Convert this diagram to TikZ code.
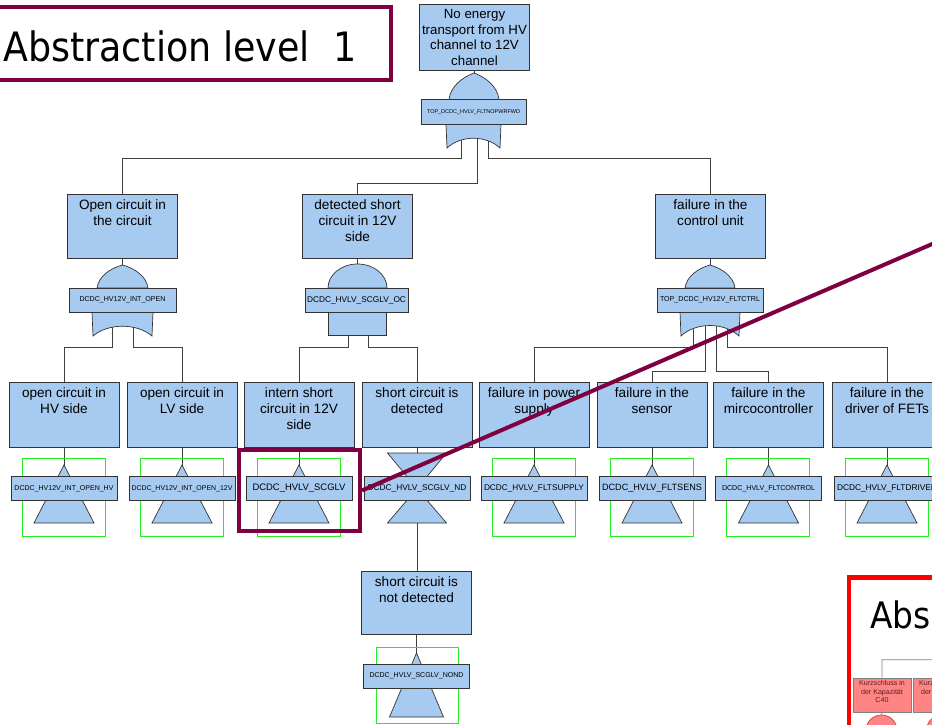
\documentclass[tikz,border=0pt]{standalone}
\usepackage{graphicx}
\usepackage{fontspec}
\setmainfont{Liberation Sans}
\newfontfamily\titlefont{DejaVu Sans}
\usetikzlibrary{backgrounds}
\definecolor{fbblue}{HTML}{A6CAF0}
\definecolor{bdr}{HTML}{333333}
\definecolor{conn}{HTML}{404040}
\definecolor{mag}{HTML}{7F0040}
\definecolor{grn}{HTML}{22EE22}
\definecolor{pinkf}{HTML}{FF8484}
\definecolor{pinktx}{HTML}{5A2020}
\newcommand{\fitlbl}[2]{\resizebox{#1}{!}{\fontsize{10}{12}\selectfont #2}}
\newcommand{\bevt}[5]{%
  \draw[grnbox] (#2-42,#3-30.5) rectangle (#2+41,#3+47.5);
  \path[gshape] (#2,#3-23.5) -- (#2+30,#3+34.5) -- (#2-30,#3+34.5) -- cycle;
  \node[gl=106pt] (#1) at (#2,#3) {\fitlbl{#4}{#5}};
}
\tikzset{
  evt/.style={draw=bdr, fill=fbblue, line width=.8pt, minimum width=110pt, minimum height=#1, inner sep=0pt},
  tx/.style={anchor=north, yshift=-6pt, align=center, font=\fontsize{13.6}{16}\selectfont, inner sep=0pt, text=black},
  gl/.style={draw=bdr, fill=fbblue, line width=.8pt, minimum width=#1, minimum height=24pt, inner sep=0pt},
  gshape/.style={draw=bdr, fill=fbblue, line width=.7pt},
  grnbox/.style={draw=grn, line width=.8pt},
  wire/.style={draw=conn, line width=.8pt},
  pk/.style={draw=gray, fill=pinkf, line width=.6pt, minimum width=58pt, minimum height=34pt, inner sep=0pt},
  pktx/.style={anchor=north, yshift=-2.5pt, align=center, font=\fontsize{7.1}{8.5}\selectfont, inner sep=0pt, text=pinktx},
}
\begin{document}
\begin{tikzpicture}[x=1pt, y=-1pt, line join=miter]
\clip (0,0) rectangle (932,724);

% ---------- title ----------
\node[draw=mag, line width=4pt, minimum width=397pt, minimum height=73pt, inner sep=0pt, outer sep=0pt] (tbox) at (192.5,43.5) {};
\node[anchor=base west, inner sep=0pt, font=\titlefont\fontsize{40.5}{48}\selectfont] (ttl) at (3,61) {\scalebox{0.9}[1]{Abstraction level~~1}};

% ---------- event boxes ----------
\node[evt=66pt, label={[tx, font=\fontsize{13.3}{15.5}\selectfont]north:{No energy\\transport from HV\\channel to 12V\\channel}}] (top) at (474.5,37) {};

\node[evt=64pt, label={[tx]north:{Open circuit in\\the circuit}}] (oc) at (122.5,226) {};
\node[evt=64pt, label={[tx]north:{detected short\\circuit in 12V\\side}}] (dsc) at (357.5,226) {};
\node[evt=64pt, label={[tx]north:{failure in the\\control unit}}] (fcu) at (710.5,226) {};

\node[evt=65pt, label={[tx]north:{open circuit in\\HV side}}] (hv) at (64,414.5) {};
\node[evt=65pt, label={[tx]north:{open circuit in\\LV side}}] (lv) at (182,414.5) {};
\node[evt=65pt, label={[tx]north:{intern short\\circuit in 12V\\side}}] (isc) at (299,414.5) {};
\node[evt=65pt, label={[tx]north:{short circuit is\\detected}}] (scd) at (417,414.5) {};
\node[evt=65pt, label={[tx]north:{failure in power\\supply}}] (fps) at (534,414.5) {};
\node[evt=65pt, label={[tx]north:{failure in the\\sensor}}] (fse) at (652,414.5) {};
\node[evt=65pt, label={[tx]north:{failure in the\\mircocontroller}}] (fmc) at (768.5,414.5) {};
\node[evt=65pt, label={[tx]north:{failure in the\\driver of FETs}}] (fdr) at (887,414.5) {};

\node[evt=63pt, label={[tx]north:{short circuit is\\not detected}}] (snd) at (416.5,602.5) {};

% ---------- gates ----------
% top OR gate
\path[gshape] (449,99.5) .. controls (450.5,86) and (463,77) .. (474,73) .. controls (485,77) and (497.5,86) .. (499,99.5) -- cycle;
\path[gshape] (446,124.5) -- (447,148) .. controls (461,135) and (486,135) .. (500,148) -- (501,124.5) -- cycle;
\node[gl=105pt, minimum height=25pt] (g0) at (473.5,112) {\fitlbl{93pt}{TOP\_DCDC\_HVLV\_FLTNOPWRFWD}};

% left OR gate
\path[gshape] (97,288) .. controls (98.5,276) and (111,268) .. (122.5,265) .. controls (134,268) and (146.5,276) .. (148,288) -- cycle;
\path[gshape] (92,312) -- (93,336) .. controls (108,323) and (137,323) .. (152,336) -- (153,312) -- cycle;
\node[gl=107pt] (g1) at (122.5,300) {\fitlbl{86pt}{DCDC\_HV12V\_INT\_OPEN}};

% middle AND gate
\path[gshape] (328,288) arc[start angle=180, end angle=360, x radius=29.5, y radius=24] -- cycle;
\path[gshape] (328.5,312) rectangle (386.5,335);
\node[gl=103pt] (g2) at (356.5,300) {\fitlbl{99pt}{DCDC\_HVLV\_SCGLV\_OC}};

% right OR gate
\path[gshape] (685,288) .. controls (686.5,276) and (699,268) .. (710,265) .. controls (721,268) and (733.5,276) .. (735,288) -- cycle;
\path[gshape] (680,312) -- (681,336) .. controls (696,322) and (724,322) .. (739,336) -- (740,312) -- cycle;
\node[gl=106pt] (g3) at (710,300) {\fitlbl{100pt}{TOP\_DCDC\_HV12V\_FLTCTRL}};

% ---------- basic / transfer events ----------
\bevt{e1}{64}{488.5}{99pt}{DCDC\_HV12V\_INT\_OPEN\_HV}
\bevt{e2}{182}{488.5}{101pt}{DCDC\_HV12V\_INT\_OPEN\_12V}
\bevt{e3}{299}{488.5}{93pt}{DCDC\_HVLV\_SCGLV}
\bevt{e5}{534}{488.5}{100pt}{DCDC\_HVLV\_FLTSUPPLY}
\bevt{e6}{652}{488.5}{100pt}{DCDC\_HVLV\_FLTSENS}
\bevt{e7}{768.5}{488.5}{93pt}{DCDC\_HVLV\_FLTCONTROL}
\bevt{e8}{887}{488.5}{100pt}{DCDC\_HVLV\_FLTDRIVER}

% hourglass
\path[gshape] (387.5,453) -- (446.5,453) -- (417,488.5) -- cycle;
\path[gshape] (417,488.5) -- (446.5,523) -- (387.5,523) -- cycle;
\node[gl=106pt] (nd) at (417,488.5) {\fitlbl{99pt}{DCDC\_HVLV\_SCGLV\_ND}};

% not detected event
\draw[grnbox] (376,647) rectangle (458,723);
\path[gshape] (416.5,653) -- (443.5,717) -- (389.5,717) -- cycle;
\node[gl=106pt] (e9) at (416.5,676) {\fitlbl{94pt}{DCDC\_HVLV\_SCGLV\_NOND}};

% ---------- abstraction level 2 (cut off) ----------
\node[draw=red, line width=4.5pt, minimum width=200pt, minimum height=200pt, inner sep=0pt, outer sep=0pt, anchor=north west] (lvl2) at (849,577.5) {};
\node[anchor=base west, inner sep=0pt, font=\titlefont\fontsize{36.5}{44}\selectfont] (abs) at (870,628) {\scalebox{0.9}[1]{Abs}};
\coordinate (rbus) at (1000,660);
\node[pk, label={[pktx]north:{Kurzschluss in\\der Kapazität\\C40}}] (pk1) at (882,695) {};
\node[pk, label={[pktx]north:{Kurzschluss in\\der Kapazität}}] (pk2) at (942,695) {};
\node[circle, draw={rgb,255:red,220;green,70;blue,70}, fill=pinkf, line width=.8pt, minimum size=31pt, inner sep=0pt] (rc1) at (881.5,730.5) {};
\node[circle, draw={rgb,255:red,220;green,70;blue,70}, fill=pinkf, line width=.8pt, minimum size=31pt, inner sep=0pt] (rc2) at (942,730.5) {};

% ---------- connectors ----------
\begin{pgfonlayer}{background}
\fill[white] (0,0) rectangle (932,724);
\draw[wire] (top.south) -- (top.south |- g0.center);
\coordinate (g0a) at (461,130);
\coordinate (g0b) at (477,130);
\coordinate (g0c) at (488,130);
\draw[wire] (g0a) -- ++(0,28) -| (oc.north);
\draw[wire] (g0b) -- ++(0,53) -| (dsc.north);
\draw[wire] (g0c) -- ++(0,28) -| (fcu.north);

\draw[wire] (oc.south) -- (oc.south |- g1.center);
\draw[wire] (dsc.south) -- (dsc.south |- g2.center);
\draw[wire] (fcu.south) -- (fcu.south |- g3.center);

\coordinate (g1a) at (112,320);
\coordinate (g1b) at (133,320);
\draw[wire] (g1a) -- ++(0,27) -| (hv.north);
\draw[wire] (g1b) -- ++(0,27) -| (lv.north);
\coordinate (g2a) at (348,320);
\coordinate (g2b) at (368,320);
\draw[wire] (g2a) -- ++(0,27) -| (isc.north);
\draw[wire] (g2b) -- ++(0,27) -| (scd.north);
\coordinate (g3a) at (693,320);
\coordinate (g3b) at (705,320);
\coordinate (g3c) at (716,320);
\coordinate (g3d) at (727,320);
\draw[wire] (g3a) -- ++(0,27) -| (fps.north);
\draw[wire] (g3b) -- ++(0,51) -| (fse.north);
\draw[wire] (g3c) -- ++(0,51) -| (fmc.north);
\draw[wire] (g3d) -- ++(0,27) -| (fdr.north);

\draw[wire] (hv.south) -- (hv.south |- e1.center);
\draw[wire] (lv.south) -- (lv.south |- e2.center);
\draw[wire] (isc.south) -- (isc.south |- e3.center);
\draw[wire] (scd.south) -- (scd.south |- nd.center);
\draw[wire] (fps.south) -- (fps.south |- e5.center);
\draw[wire] (fse.south) -- (fse.south |- e6.center);
\draw[wire] (fmc.south) -- (fmc.south |- e7.center);
\draw[wire] (fdr.south) -- (fdr.south |- e8.center);
\draw[wire] (nd.center) -- (nd.center |- snd.north);
\draw[wire] (snd.south) -- (snd.south |- e9.center);

\draw[draw=gray, line width=.7pt] (pk1.north) -- ++(0,-18) -- (rbus);
\draw[draw=gray, line width=.7pt] (pk2.north) -- (pk2.north |- rbus);
\draw[draw=gray, line width=.7pt] (pk1.south) -- (rc1.north);
\end{pgfonlayer}

% ---------- highlight ----------
\node[draw=mag, line width=4pt, minimum width=121pt, minimum height=81pt, inner sep=0pt] (hl) at (299.5,490.5) {};
\coordinate (zend) at (946,238);
\draw[mag, line width=4pt] (hl.east) -- (zend);
\end{tikzpicture}
\end{document}
